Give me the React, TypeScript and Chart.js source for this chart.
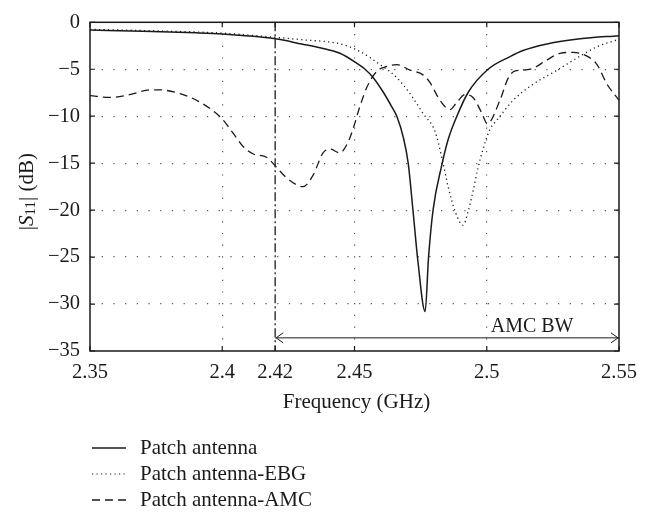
import React, { useEffect, useRef } from "react";
import { Chart, registerables } from "chart.js";

Chart.register(...registerables);

const patchFreq = [2.35, 2.37, 2.39, 2.40, 2.41, 2.42, 2.43, 2.437, 2.4445, 2.4508, 2.454, 2.4571, 2.4609, 2.4641, 2.466, 2.4685, 2.4703, 2.4721, 2.474, 2.4767, 2.478, 2.4797, 2.483, 2.4855, 2.4887, 2.493, 2.5005, 2.5088, 2.5137, 2.5228, 2.5353, 2.55];
const patchS11 = [-0.83, -0.95, -1.12, -1.24, -1.45, -1.76, -2.3, -2.7, -3.3, -4.35, -5.0, -5.9, -7.45, -9.0, -10.0, -12.3, -15.0, -20.0, -25.5, -30.8, -25.0, -20.0, -15.2, -12.4, -10.0, -7.45, -5.0, -3.65, -3.0, -2.3, -1.76, -1.42];

const ebgFreq = [2.35, 2.38, 2.40, 2.42, 2.43, 2.4445, 2.452, 2.4596, 2.4653, 2.471, 2.4759, 2.4804, 2.4831, 2.4854, 2.488, 2.491, 2.4929, 2.4948, 2.4967, 2.4986, 2.5012, 2.5039, 2.51, 2.5175, 2.5266, 2.5353, 2.5417, 2.55];
const ebgS11 = [-0.75, -0.95, -1.15, -1.6, -1.85, -2.3, -3.1, -4.5, -5.7, -7.6, -9.7, -11.6, -14.5, -17.5, -20.1, -21.6, -20.2, -18.0, -15.5, -13.5, -11.4, -10.4, -8.3, -6.6, -5.1, -3.6, -2.6, -1.8];

const amcFreq = [2.35, 2.3576, 2.365, 2.3727, 2.3765, 2.384, 2.3916, 2.4, 2.4041, 2.4078, 2.4116, 2.4169, 2.4207, 2.4245, 2.4305, 2.4343, 2.4381, 2.4407, 2.4445, 2.4475, 2.4494, 2.452, 2.4547, 2.4585, 2.4623, 2.466, 2.471, 2.4759, 2.4785, 2.4823, 2.4861, 2.4885, 2.4918, 2.4948, 2.4982, 2.5002, 2.505, 2.508, 2.5105, 2.5137, 2.5175, 2.5228, 2.5277, 2.5326, 2.5379, 2.5417, 2.5455, 2.55];
const amcS11 = [-7.8, -8.0, -7.7, -7.2, -7.2, -7.6, -8.5, -10.3, -11.8, -13.2, -14.0, -14.4, -15.5, -16.6, -17.5, -16.3, -13.9, -13.5, -13.9, -12.8, -11.4, -9.0, -6.9, -5.2, -4.7, -4.5, -5.1, -5.6, -6.4, -8.3, -9.3, -8.6, -7.7, -8.0, -9.7, -10.8, -8.3, -6.0, -5.2, -5.1, -4.9, -4.0, -3.3, -3.2, -3.6, -4.5, -6.6, -8.3];

const xTicks = [2.35, 2.4, 2.42, 2.45, 2.5, 2.55];
const xTickLabels = ["2.35", "2.4", "2.42", "2.45", "2.5", "2.55"];
const yTicks = [0, -5, -10, -15, -20, -25, -30, -35];
const yTickLabels = ["0", "\u22125", "\u221210", "\u221215", "\u221220", "\u221225", "\u221230", "\u221235"];

const seriesNames = ["Patch antenna", "Patch antenna-EBG", "Patch antenna-AMC"];
const markerFreq = 2.42;
const bwStart = 2.42;
const bwEnd = 2.55;
const bwLevel = -33.6;
const bwLabel = "AMC BW";
const xTitle = "Frequency (GHz)";

const FONT = '"Liberation Serif", "DejaVu Serif", serif';
const INK = "#1a1a1a";
const DOT = [1.2, 3.3];
const DASH = [8, 5];

const pts = (xs: number[], ys: number[]) => xs.map((x, i) => ({ x, y: ys[i] }));

const decorPlugin = {
  id: "decor",
  afterDatasetsDraw(chart: any) {
    const { ctx, chartArea: a, scales } = chart;
    const xs = scales.x;
    const ys = scales.y;
    ctx.save();
    ctx.strokeStyle = INK;
    ctx.lineWidth = 1.5;
    ctx.setLineDash([]);
    ctx.strokeRect(a.left, a.top, a.right - a.left, a.bottom - a.top);
    ctx.lineWidth = 1.2;
    const tl = 5;
    xTicks.forEach((v) => {
      const px = xs.getPixelForValue(v);
      ctx.beginPath();
      ctx.moveTo(px, a.bottom);
      ctx.lineTo(px, a.bottom - tl);
      ctx.moveTo(px, a.top);
      ctx.lineTo(px, a.top + tl);
      ctx.stroke();
    });
    yTicks.forEach((v) => {
      const py = ys.getPixelForValue(v);
      ctx.beginPath();
      ctx.moveTo(a.left, py);
      ctx.lineTo(a.left + tl, py);
      ctx.moveTo(a.right, py);
      ctx.lineTo(a.right - tl, py);
      ctx.stroke();
    });
    const ay = ys.getPixelForValue(bwLevel);
    const ax1 = xs.getPixelForValue(bwStart);
    const ax2 = xs.getPixelForValue(bwEnd);
    ctx.lineWidth = 1;
    ctx.beginPath();
    ctx.moveTo(ax1 + 8, ay - 5);
    ctx.lineTo(ax1 + 1, ay);
    ctx.lineTo(ax1 + 8, ay + 5);
    ctx.moveTo(ax2 - 8, ay - 5);
    ctx.lineTo(ax2 - 1, ay);
    ctx.lineTo(ax2 - 8, ay + 5);
    ctx.stroke();
    ctx.fillStyle = INK;
    ctx.font = `20px ${FONT}`;
    ctx.textAlign = "left";
    ctx.textBaseline = "alphabetic";
    ctx.fillText(bwLabel, xs.getPixelForValue(2.5015), ay - 6);
    ctx.font = `21px ${FONT}`;
    ctx.textAlign = "center";
    ctx.textBaseline = "middle";
    ctx.fillText(xTitle, (a.left + a.right) / 2 + 2, 402);
    ctx.save();
    ctx.translate(27, (a.top + a.bottom) / 2 + 5);
    ctx.rotate(-Math.PI / 2);
    const parts = [
      { t: "|", f: `21px ${FONT}`, dy: 0 },
      { t: "S", f: `italic 21px ${FONT}`, dy: 0 },
      { t: "11", f: `15px ${FONT}`, dy: 4 },
      { t: "| (dB)", f: `21px ${FONT}`, dy: 0 },
    ];
    let total = 0;
    parts.forEach((p) => {
      ctx.font = p.f;
      total += ctx.measureText(p.t).width;
    });
    let cx = -total / 2;
    ctx.textAlign = "left";
    ctx.textBaseline = "middle";
    parts.forEach((p) => {
      ctx.font = p.f;
      ctx.fillText(p.t, cx, p.dy);
      cx += ctx.measureText(p.t).width;
    });
    ctx.restore();
    const rows = [448, 474, 500];
    const dashes = [[], DOT, DASH];
    rows.forEach((ry, i) => {
      ctx.strokeStyle = INK;
      ctx.lineWidth = i === 1 ? 1.2 : 1.3;
      ctx.setLineDash(dashes[i]);
      ctx.beginPath();
      ctx.moveTo(92, ry);
      ctx.lineTo(126, ry);
      ctx.stroke();
      ctx.setLineDash([]);
      ctx.font = `21px ${FONT}`;
      ctx.textAlign = "left";
      ctx.textBaseline = "middle";
      ctx.fillText(seriesNames[i], 140, ry);
    });
    ctx.restore();
  },
};

export default function App() {
  const ref = useRef<HTMLCanvasElement | null>(null);
  useEffect(() => {
    document.body.style.margin = "0";
    const canvas = ref.current;
    if (!canvas) return;
    const chart = new Chart(canvas, {
      type: "line",
      data: {
        datasets: [
          {
            label: seriesNames[0],
            data: pts(patchFreq, patchS11),
            borderColor: INK,
            borderWidth: 1.5,
            pointRadius: 0,
            cubicInterpolationMode: "monotone",
          },
          {
            label: seriesNames[1],
            data: pts(ebgFreq, ebgS11),
            borderColor: INK,
            borderWidth: 1.3,
            borderDash: DOT,
            pointRadius: 0,
            cubicInterpolationMode: "monotone",
          },
          {
            label: seriesNames[2],
            data: pts(amcFreq, amcS11),
            borderColor: INK,
            borderWidth: 1.3,
            borderDash: DASH,
            pointRadius: 0,
            cubicInterpolationMode: "monotone",
          },
          {
            label: "marker",
            data: [
              { x: markerFreq, y: 0 },
              { x: markerFreq, y: -35 },
            ],
            borderColor: INK,
            borderWidth: 1.3,
            borderDash: [9, 3, 2, 3],
            pointRadius: 0,
          },
          {
            label: "bw",
            data: [
              { x: bwStart, y: bwLevel },
              { x: bwEnd, y: bwLevel },
            ],
            borderColor: INK,
            borderWidth: 1,
            pointRadius: 0,
          },
        ],
      },
      options: {
        animation: false,
        responsive: false,
        devicePixelRatio: 1,
        layout: { padding: { left: 0, top: 13, right: 28, bottom: 0 } },
        plugins: { legend: { display: false }, tooltip: { enabled: false } },
        scales: {
          x: {
            type: "linear",
            min: 2.35,
            max: 2.55,
            afterBuildTicks: (s: any) => {
              s.ticks = xTicks.map((v) => ({ value: v }));
            },
            afterFit: (s: any) => {
              s.height = 161;
            },
            ticks: {
              autoSkip: false,
              maxRotation: 0,
              padding: 9,
              color: INK,
              font: { family: FONT, size: 20.5 },
              callback: (v: any) => {
                const i = xTicks.findIndex((t) => Math.abs(t - v) < 1e-6);
                return i >= 0 ? xTickLabels[i] : "";
              },
            },
            grid: {
              drawTicks: false,
              lineWidth: 1.2,
              color: (c: any) => {
                const v = c.tick ? c.tick.value : null;
                if (v === null) return "transparent";
                if (Math.abs(v - 2.35) < 1e-6 || Math.abs(v - 2.55) < 1e-6 || Math.abs(v - markerFreq) < 1e-6) return "transparent";
                return "#555";
              },
            },
            border: { display: false, dash: [1.2, 10.5] },
          },
          y: {
            type: "linear",
            min: -35,
            max: 0,
            afterBuildTicks: (s: any) => {
              s.ticks = yTicks.map((v) => ({ value: v }));
            },
            afterFit: (s: any) => {
              s.width = 90;
            },
            ticks: {
              autoSkip: false,
              padding: 10,
              color: INK,
              font: { family: FONT, size: 20.5 },
              callback: (v: any) => {
                const i = yTicks.findIndex((t) => Math.abs(t - v) < 1e-6);
                return i >= 0 ? yTickLabels[i] : "";
              },
            },
            grid: {
              drawTicks: false,
              lineWidth: 1.2,
              color: (c: any) => {
                const v = c.tick ? c.tick.value : null;
                if (v === null || v === 0 || v === -35) return "transparent";
                return "#555";
              },
            },
            border: { display: false, dash: [1.2, 10.5] },
          },
        },
      },
      plugins: [decorPlugin],
    } as any);
    return () => chart.destroy();
  }, []);
  return (
    <div style={{ position: "absolute", left: 0, top: 0, width: 647, height: 512, background: "#fff" }}>
      <canvas ref={ref} width={647} height={512} style={{ display: "block" }} />
    </div>
  );
}
